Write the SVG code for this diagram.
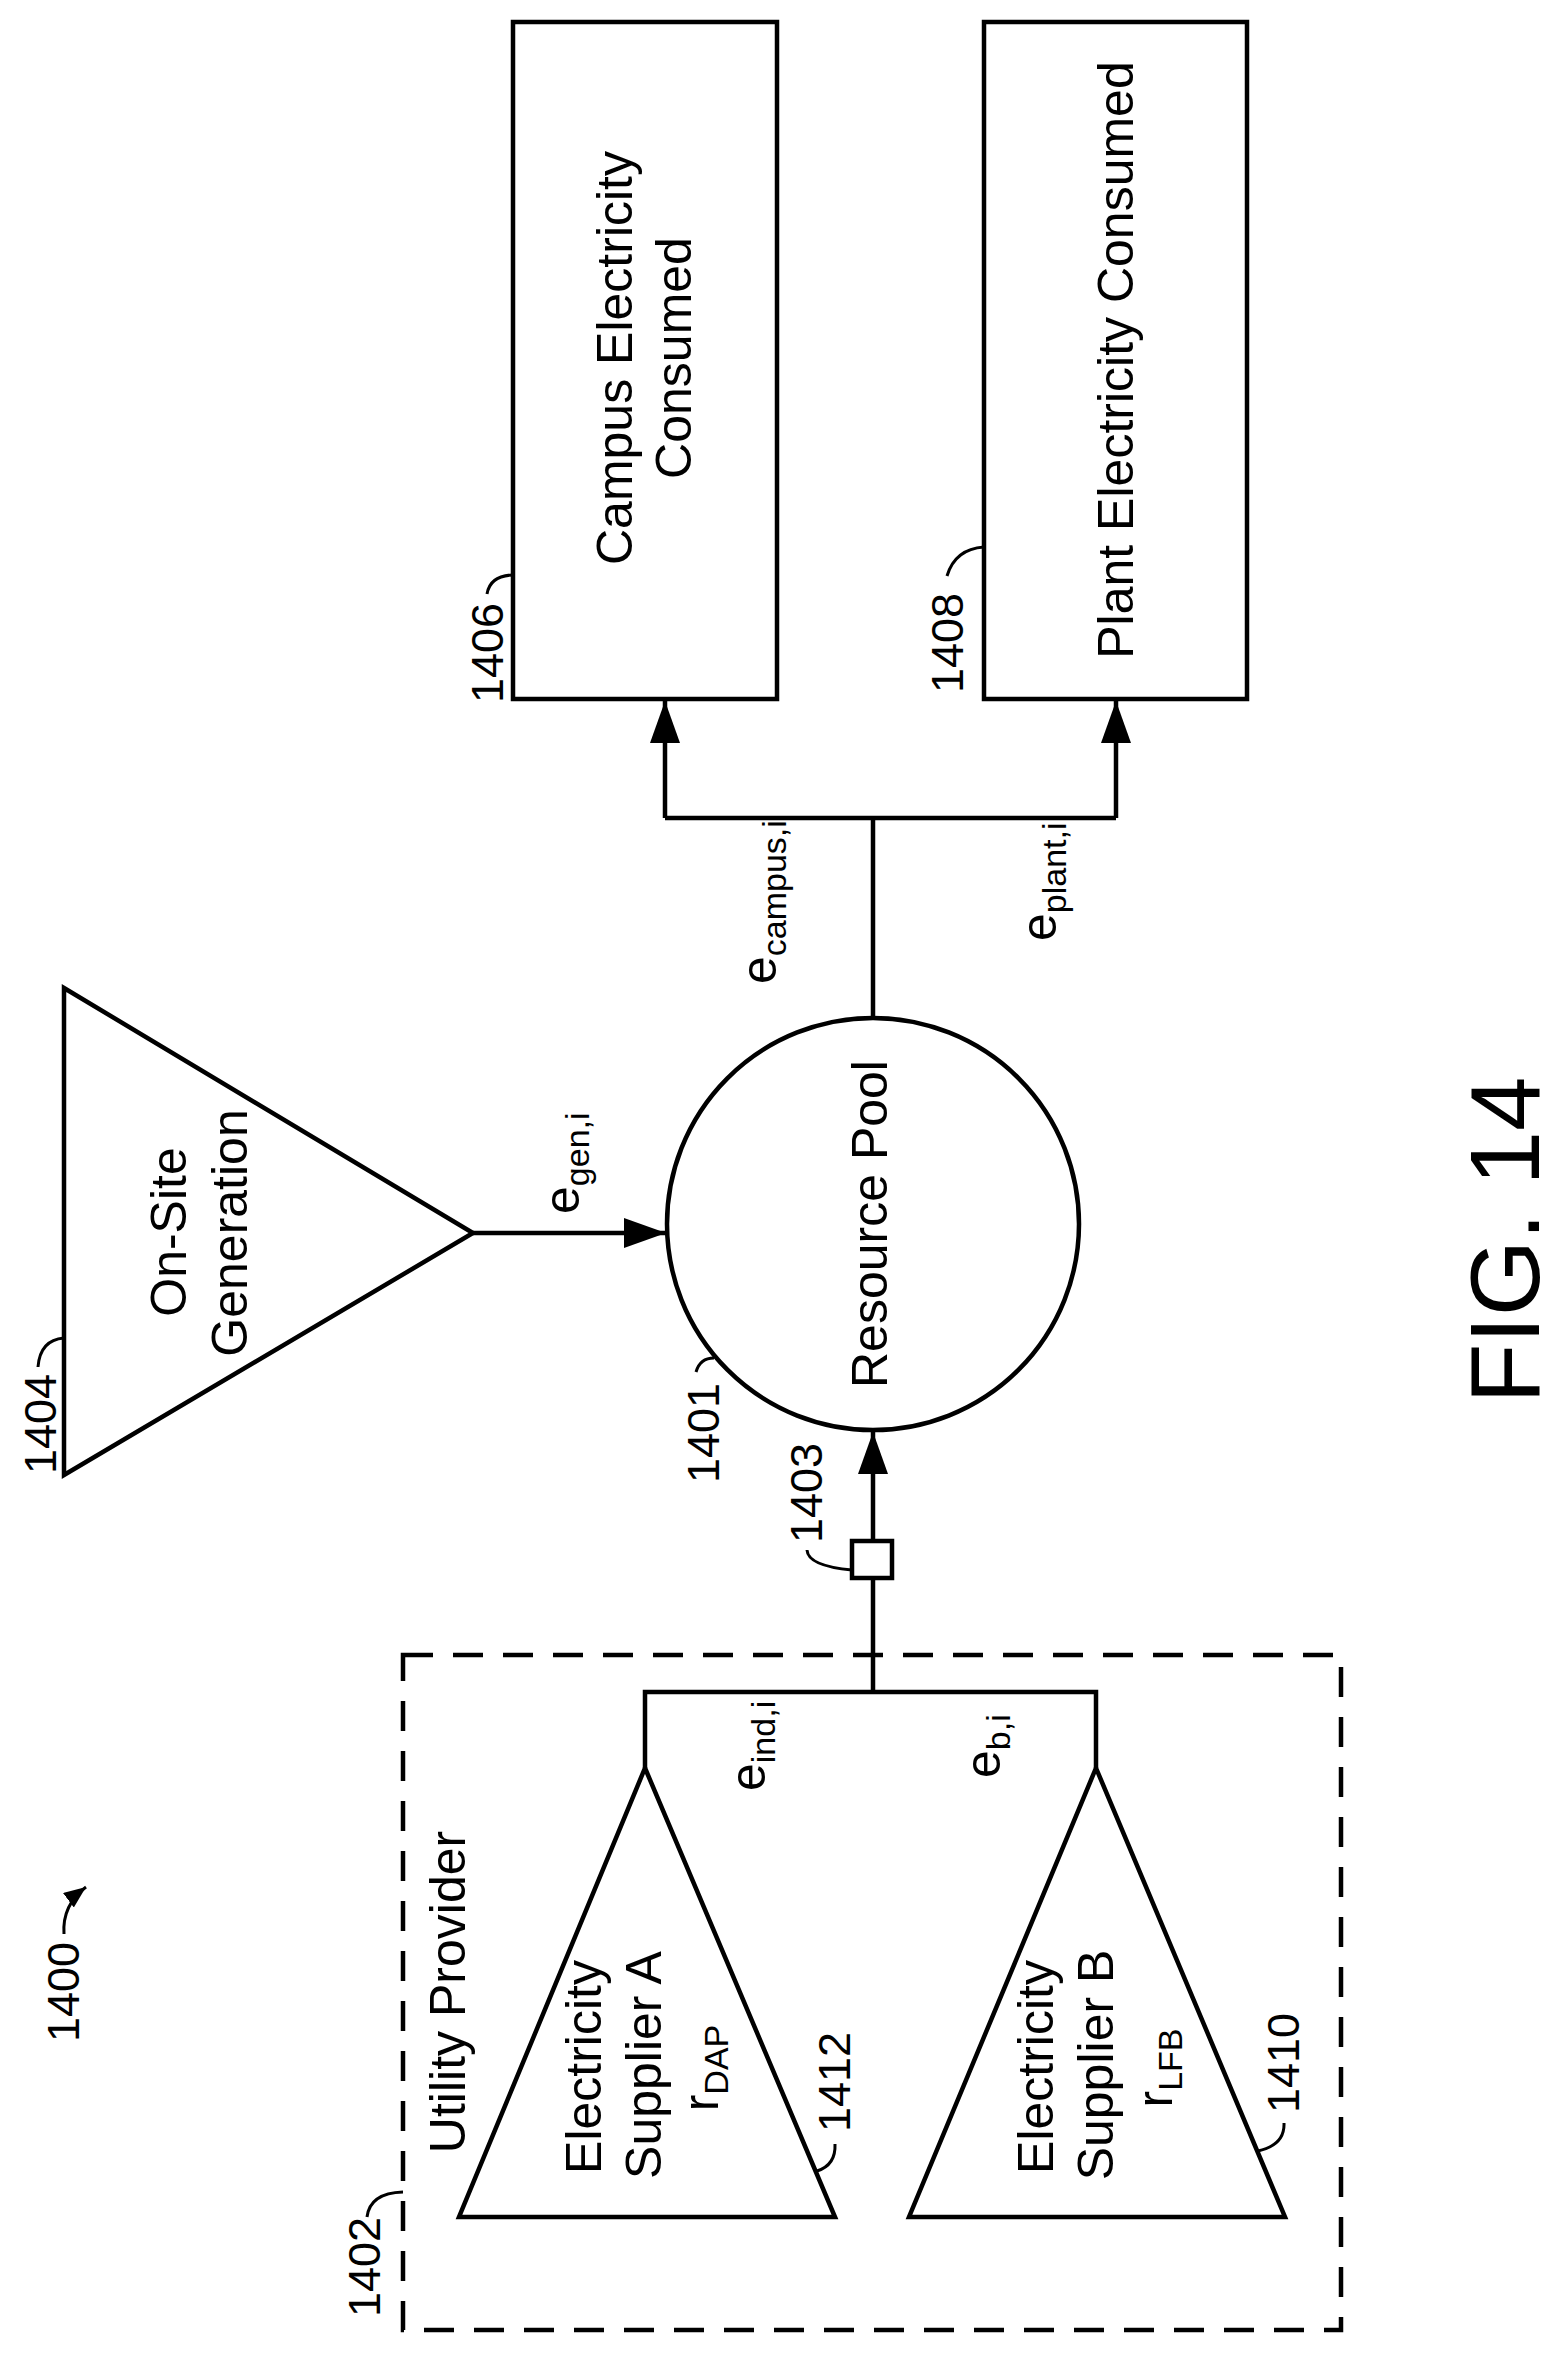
<svg xmlns="http://www.w3.org/2000/svg" width="1561" height="2354" viewBox="0 0 1561 2354">
<style>
text{font-family:"Liberation Sans",Arial,sans-serif;fill:#000}
.t{font-size:50px}
.n{font-size:45px}
.s{font-size:34px}
.ln{fill:none;stroke:#000;stroke-width:4.5}
.ld{fill:none;stroke:#000;stroke-width:3}
.sh{fill:#fff;stroke:#000;stroke-width:4.5}
</style>
<defs>
<marker id="ah" markerUnits="userSpaceOnUse" markerWidth="44" markerHeight="32" refX="42" refY="15" orient="auto"><path d="M0,0 L42,15 L0,30 Z" fill="#000"/></marker>
<marker id="ah2" markerUnits="userSpaceOnUse" markerWidth="24" markerHeight="20" refX="22" refY="9" orient="auto"><path d="M0,0 L22,9 L0,18 Z" fill="#000"/></marker>
</defs>
<rect width="1561" height="2354" fill="#fff"/>

<g id="connectors">
<path class="ln" d="M473,1233 H666" marker-end="url(#ah)"/>
<path class="ln" d="M873,1017 V818 M665,818 H1116"/>
<path class="ln" d="M665,818 V701" marker-end="url(#ah)"/>
<path class="ln" d="M1116,818 V701" marker-end="url(#ah)"/>
<path class="ln" d="M873,1541 V1432" marker-end="url(#ah)"/>
<path class="ln" d="M873,1578 V1692 M645,1768 V1692 H1096 V1768"/>
<g transform="translate(579,1214) rotate(-90)"><text class="t">e<tspan class="s" dy="10">gen,i</tspan></text></g>
<g transform="translate(776,984) rotate(-90)"><text class="t">e<tspan class="s" dy="10">campus,i</tspan></text></g>
<g transform="translate(1056,941) rotate(-90)"><text class="t">e<tspan class="s" dy="10">plant,i</tspan></text></g>
<g transform="translate(765,1791) rotate(-90)"><text class="t">e<tspan class="s" dy="10">ind,i</tspan></text></g>
<g transform="translate(1000,1778) rotate(-90)"><text class="t">e<tspan class="s" dy="10">b,i</tspan></text></g>
</g>

<g id="n1406">
<rect class="sh" x="513" y="22" width="264" height="677"/>
<g transform="translate(632,358) rotate(-90)"><text class="t" text-anchor="middle">Campus Electricity</text></g>
<g transform="translate(691,358) rotate(-90)"><text class="t" text-anchor="middle">Consumed</text></g>
<path class="ld" d="M487,594 Q490,576 512,575"/>
<g transform="translate(503,653) rotate(-90)"><text class="n" text-anchor="middle">1406</text></g>
</g>

<g id="n1408">
<rect class="sh" x="984" y="22" width="263" height="677"/>
<g transform="translate(1133,360) rotate(-90)"><text class="t" text-anchor="middle">Plant Electricity Consumed</text></g>
<path class="ld" d="M947,576 Q955,549 984,547"/>
<g transform="translate(963,643) rotate(-90)"><text class="n" text-anchor="middle">1408</text></g>
</g>

<g id="n1404">
<path class="sh" d="M64,988 L473,1233 L64,1475 Z"/>
<g transform="translate(186,1232) rotate(-90)"><text class="t" text-anchor="middle">On-Site</text></g>
<g transform="translate(247,1233) rotate(-90)"><text class="t" text-anchor="middle">Generation</text></g>
<path class="ld" d="M38,1367 Q40,1340 64,1338"/>
<g transform="translate(56,1424) rotate(-90)"><text class="n" text-anchor="middle">1404</text></g>
</g>

<g id="n1401">
<circle class="sh" cx="873" cy="1224" r="206"/>
<g transform="translate(887,1224) rotate(-90)"><text class="t" text-anchor="middle">Resource Pool</text></g>
<path class="ld" d="M696,1372 Q700,1358 714,1358"/>
<g transform="translate(719,1433) rotate(-90)"><text class="n" text-anchor="middle">1401</text></g>
</g>

<g id="n1403">
<rect class="sh" x="852" y="1541" width="40" height="37"/>
<path class="ld" d="M807,1550 Q808,1566 852,1570"/>
<g transform="translate(822,1493) rotate(-90)"><text class="n" text-anchor="middle">1403</text></g>
</g>

<g id="n1402">
<rect x="403" y="1655" width="938" height="675" fill="none" stroke="#000" stroke-width="4.5" stroke-dasharray="30,20"/>
<g transform="translate(465,1992) rotate(-90)"><text class="t" text-anchor="middle">Utility Provider</text></g>
<path class="ld" d="M367,2217 Q370,2193 403,2192"/>
<g transform="translate(380,2267) rotate(-90)"><text class="n" text-anchor="middle">1402</text></g>
</g>

<g id="n1412">
<path class="sh" d="M645,1768 L835,2217 L459,2217 Z"/>
<g transform="translate(601,2067) rotate(-90)"><text class="t" text-anchor="middle">Electricity</text></g>
<g transform="translate(661,2065) rotate(-90)"><text class="t" text-anchor="middle">Supplier A</text></g>
<g transform="translate(718,2068) rotate(-90)"><text class="t" text-anchor="middle">r<tspan class="s" dy="10">DAP</tspan></text></g>
<path class="ld" d="M817,2171 Q836,2165 835,2144"/>
<g transform="translate(850,2082) rotate(-90)"><text class="n" text-anchor="middle">1412</text></g>
</g>

<g id="n1410">
<path class="sh" d="M1096,1768 L1285,2217 L909,2217 Z"/>
<g transform="translate(1053,2067) rotate(-90)"><text class="t" text-anchor="middle">Electricity</text></g>
<g transform="translate(1113,2065) rotate(-90)"><text class="t" text-anchor="middle">Supplier B</text></g>
<g transform="translate(1172,2068) rotate(-90)"><text class="t" text-anchor="middle">r<tspan class="s" dy="10">LFB</tspan></text></g>
<path class="ld" d="M1258,2151 Q1285,2145 1284,2123"/>
<g transform="translate(1299,2063) rotate(-90)"><text class="n" text-anchor="middle">1410</text></g>
</g>

<g id="n1400">
<g transform="translate(79,1992) rotate(-90)"><text class="n" text-anchor="middle">1400</text></g>
<path class="ld" d="M64,1934 Q62,1905 86,1887" marker-end="url(#ah2)"/>
</g>

<g id="fig">
<g transform="translate(1539,1240) rotate(-90)"><text style="font-size:98px" text-anchor="middle">FIG. 14</text></g>
</g>
</svg>
